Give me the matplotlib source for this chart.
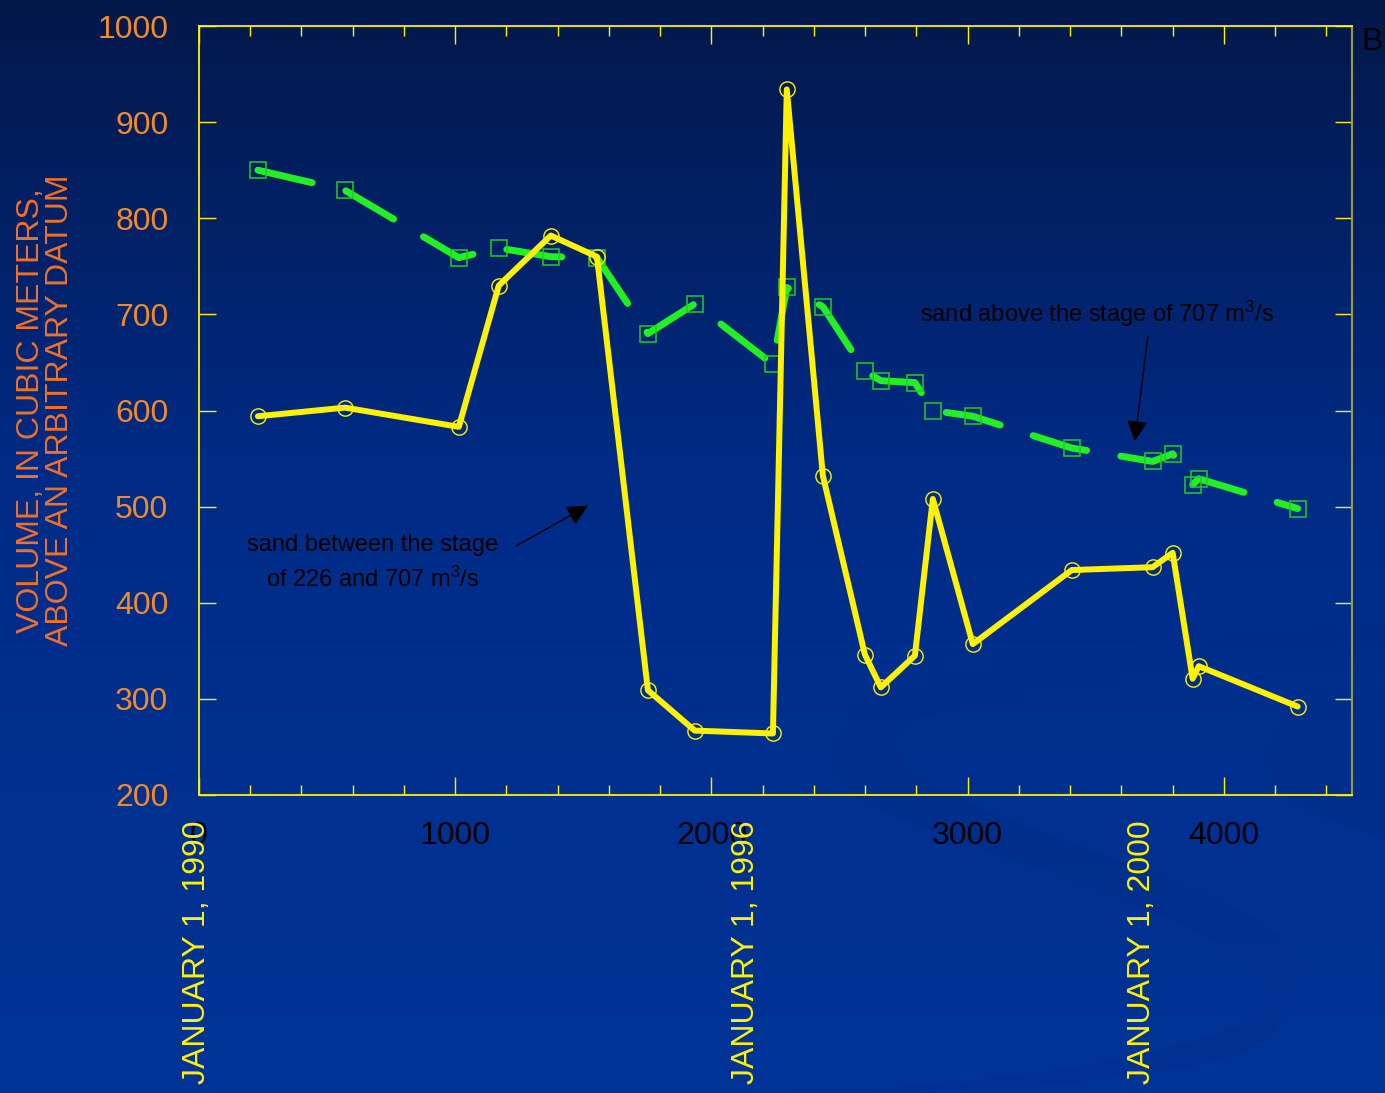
import numpy as np
import matplotlib
matplotlib.use("Agg")
import matplotlib.pyplot as plt
from matplotlib.path import Path
from matplotlib.patches import PathPatch

plt.rcParams["font.family"] = ["Liberation Sans", "DejaVu Sans"]
plt.rcParams["mathtext.fontset"] = "custom"
plt.rcParams["mathtext.rm"] = "Liberation Sans"
plt.rcParams["mathtext.it"] = "Liberation Sans"

# Elapsed time (days) of each survey
days = [230, 570, 1014, 1170, 1373, 1553, 1752, 1935, 2240, 2294, 2435,
        2599, 2661, 2794, 2864, 3020, 3406, 3722, 3800, 3878, 3902, 4288]

# Sand between the stage of 226 and 707 m3/s
vol_between = [594, 603, 583, 730, 782, 760, 309, 267, 264, 934, 532,
               346, 312, 345, 508, 357, 434, 437, 452, 321, 334, 292]

# Sand above the stage of 707 m3/s
vol_above = [850, 829, 759, 769, 760, 759, 680, 711, 648, 728, 708,
             641, 631, 629, 600, 594, 561, 547, 555, 523, 529, 498]

date_labels = ["JANUARY 1, 1990", "JANUARY 1, 1996", "JANUARY 1, 2000"]
date_pos = [-8, 2133, 3680]

W, H = 1385, 1093
fig = plt.figure(figsize=(W / 100, H / 100), dpi=100)

# Slide-style background: vertical gradient with a faint swoosh
bg = fig.add_axes([0, 0, 1, 1], zorder=-10)
bg.set_xlim(0, W)
bg.set_ylim(H, 0)
bg.axis("off")
top = np.array([4, 24, 74]) / 255
mid = np.array([0, 44, 136]) / 255
bot = np.array([0, 52, 152]) / 255
t = np.linspace(0, 1, 400)[:, None]
grad = np.where(t < 0.45, top + (mid - top) * (t / 0.45),
                mid + (bot - mid) * ((t - 0.45) / 0.55))
img = np.repeat(grad[:, None, :], 2, axis=1)
bg.imshow(img, extent=[0, W, H, 0], aspect="auto", interpolation="bilinear")

verts = [(1385, 625), (1000, 650), (800, 700), (830, 770),
         (860, 840), (1250, 900), (1280, 1010),
         (1300, 1080), (1000, 1093), (760, 1093),
         (900, 1093), (1320, 1060), (1300, 960),
         (1270, 880), (880, 810), (900, 740),
         (920, 690), (1150, 660), (1385, 660),
         (1385, 625)]
codes = [Path.MOVETO] + [Path.CURVE4] * 18 + [Path.CLOSEPOLY]
bg.add_patch(PathPatch(Path(verts, codes), facecolor="#002a80",
                       edgecolor="none", alpha=0.2))
verts2 = [(1385, 690), (1280, 700), (1230, 750), (1290, 800),
          (1320, 820), (1360, 830), (1385, 840), (1385, 690)]
codes2 = [Path.MOVETO] + [Path.CURVE4] * 6 + [Path.CLOSEPOLY]
bg.add_patch(PathPatch(Path(verts2, codes2), facecolor="#002a80",
                       edgecolor="none", alpha=0.18))

ax = fig.add_axes([199 / W, 1 - 795 / H, (1352 - 199) / W, (795 - 26) / H])
ax.patch.set_alpha(0)

yellow = "#FFF200"
green = "#22F022"
orange_tick = "#F08C28"
orange_lab = "#F07028"

ax.plot(days, vol_above, color=green, lw=5.0, linestyle=(0, (8, 5)),
        dash_capstyle="round", dash_joinstyle="round", zorder=3)
ax.plot(days, vol_above, linestyle="none", marker="s", ms=11.5,
        mfc="none", mec="#22CC22", mew=1.1, zorder=4)
ax.plot(days, vol_between, color=yellow, lw=4.3, solid_joinstyle="round",
        solid_capstyle="round", zorder=5)
ax.plot(days, vol_between, linestyle="none", marker="o", ms=11,
        mfc="none", mec=yellow, mew=1.0, zorder=6)

ax.set_xlim(0, 4500)
ax.set_ylim(200, 1000)

for side in ["left", "bottom", "top"]:
    ax.spines[side].set_color(yellow)
    ax.spines[side].set_linewidth(1.3)
ax.spines["right"].set_color("#9A9A40")
ax.spines["right"].set_linewidth(1.5)

ax.set_xticks([0, 1000, 2000, 3000, 4000])
ax.set_xticks(np.arange(200, 4500, 200), minor=True)
ax.set_yticks(np.arange(200, 1001, 100))
ax.tick_params(axis="x", which="major", direction="in", length=13, width=1,
               color=yellow, top=True, labelsize=23, labelcolor="black", pad=19)
ax.tick_params(axis="x", which="minor", direction="in", length=7, width=1,
               color=yellow, top=True)
ax.tick_params(axis="y", which="major", direction="in", length=12, width=1,
               color=yellow, right=True, labelsize=23, labelcolor=orange_tick,
               pad=22)
ax.set_yticklabels([str(v) for v in range(200, 1001, 100)])

ax.set_ylabel("VOLUME, IN CUBIC METERS,\nABOVE AN ARBITRARY DATUM",
              fontsize=23, color=orange_lab, linespacing=0.97, labelpad=16)

for lab, pos in zip(date_labels, date_pos):
    ax.text(pos, -0.033, lab, transform=ax.get_xaxis_transform(),
            rotation=90, ha="center", va="top", fontsize=23, color=yellow,
            clip_on=False)

fig.text(373 / W, 1 - 563 / H,
         "sand between the stage\nof 226 and 707 m$^{3}$/s",
         ha="center", va="center", fontsize=17, color="black",
         linespacing=1.55)
ax.annotate("", xy=(1518, 501), xytext=(1237, 459),
            arrowprops=dict(arrowstyle="-|>", color="black", lw=1.0,
                            mutation_scale=32, shrinkA=0, shrinkB=0))

fig.text(1097 / W, 1 - 314 / H, "sand above the stage of 707 m$^{3}$/s",
         ha="center", va="center", fontsize=17, color="black")
ax.annotate("", xy=(3652, 568), xytext=(3703, 677),
            arrowprops=dict(arrowstyle="-|>", color="black", lw=1.0,
                            mutation_scale=32, shrinkA=0, shrinkB=0))

fig.text(1361 / W, 1 - 42 / H, "B", ha="left", va="center", fontsize=23,
         color="black")

fig.savefig("out.png", dpi=100)
